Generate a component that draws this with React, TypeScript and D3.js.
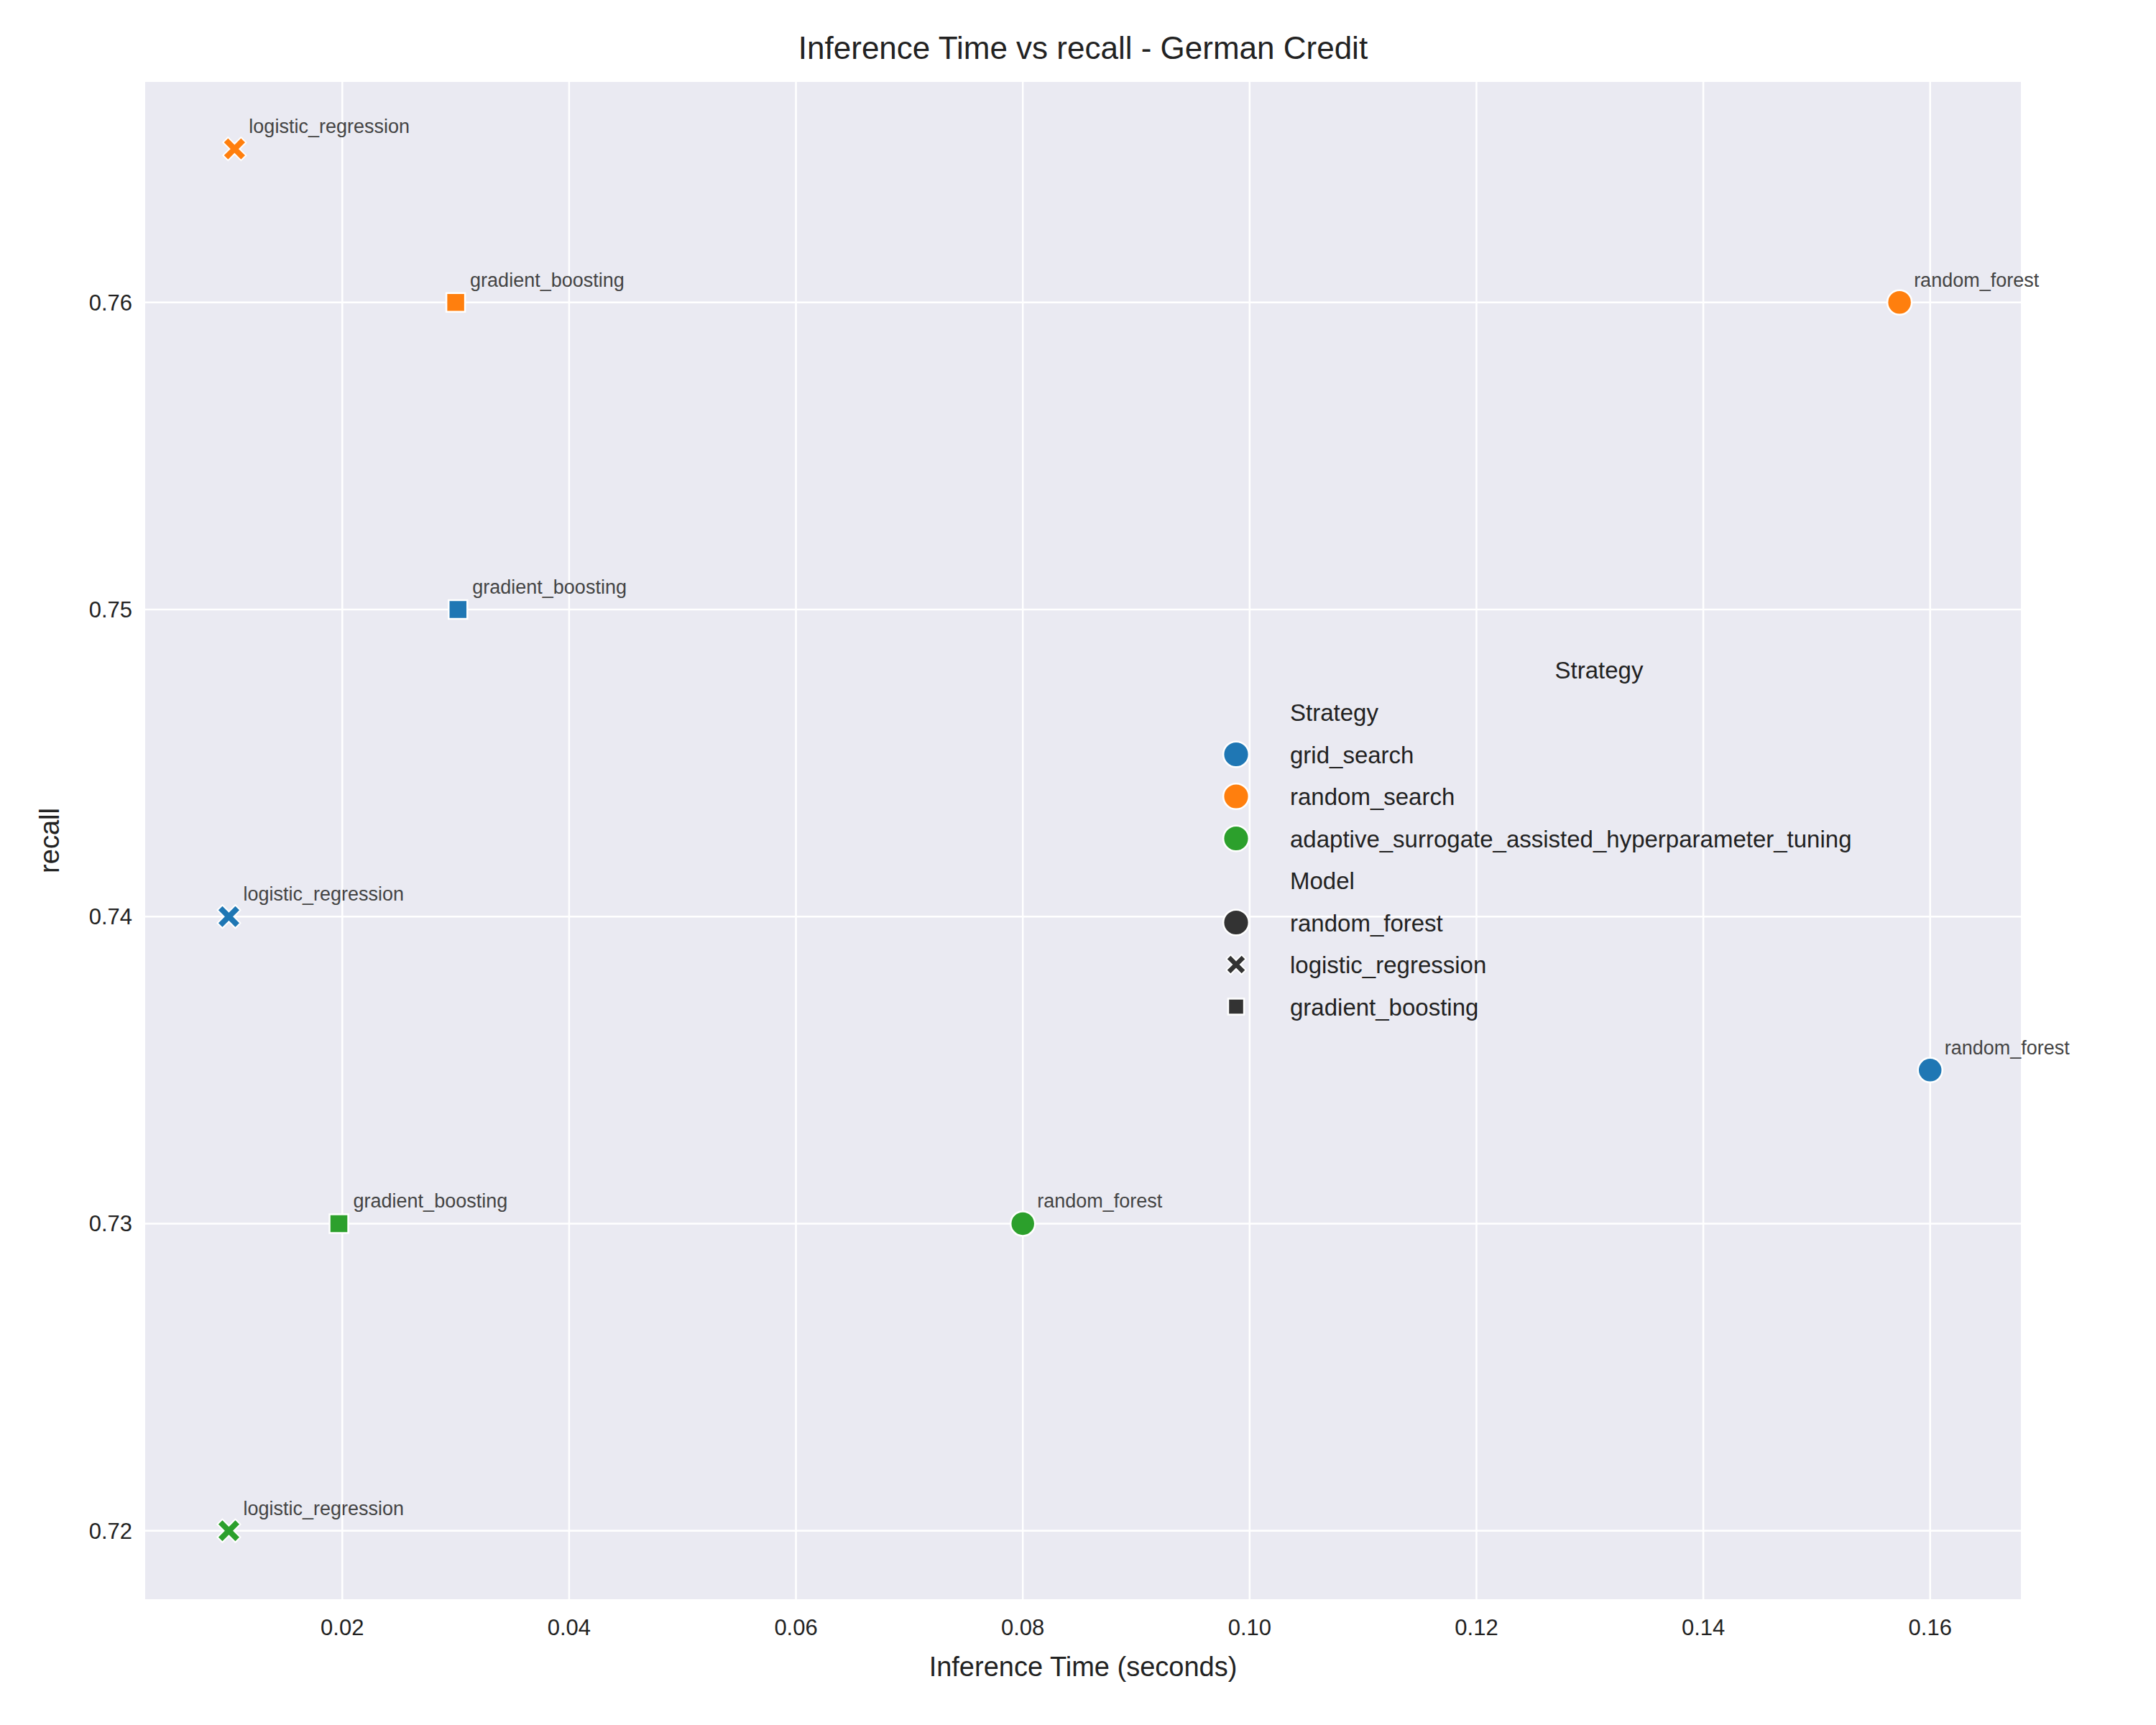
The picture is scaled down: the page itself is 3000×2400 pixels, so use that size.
import * as React from "react";
import * as d3 from "d3";

const strategies = ["grid_search", "random_search", "adaptive_surrogate_assisted_hyperparameter_tuning"];
const models = ["random_forest", "logistic_regression", "gradient_boosting"];
const colors = ["#1f77b4", "#ff7f0e", "#2ca02c"];
// [strategy, model, time, recall]
const points: [number, number, number, number][] = [
  [0, 0, 0.16, 0.735],
  [0, 1, 0.01, 0.74],
  [0, 2, 0.0302, 0.75],
  [1, 0, 0.1573, 0.76],
  [1, 1, 0.0105, 0.765],
  [1, 2, 0.03, 0.76],
  [2, 0, 0.08, 0.73],
  [2, 1, 0.01, 0.72],
  [2, 2, 0.0197, 0.73],
];
const xTicks = [0.02, 0.04, 0.06, 0.08, 0.1, 0.12, 0.14, 0.16];
const yTicks = [0.72, 0.73, 0.74, 0.75, 0.76];

const W = 3000, H = 2400;
const L = 202, R = 2812, T = 114, B = 2225;
const font = "Liberation Sans, Arial, sans-serif";

function Marker({ shape, x, y, fill, s = 1 }: { shape: number; x: number; y: number; fill: string; s?: number }) {
  if (shape === 0) return <circle cx={x} cy={y} r={17 * s} fill={fill} stroke="#fff" strokeWidth={2.5} />;
  if (shape === 2) {
    const h = 13 * s;
    return <rect x={x - h} y={y - h} width={2 * h} height={2 * h} fill={fill} stroke="#fff" strokeWidth={2.5} />;
  }
  const a = 16 * s, w = 7 * s;
  const p = `M${-a + w},${-a} L0,${-w} L${a - w},${-a} L${a},${-a + w} L${w},0 L${a},${a - w} L${a - w},${a} L0,${w} L${-a + w},${a} L${-a},${a - w} L${-w},0 L${-a},${-a + w} Z`;
  return <path d={p} transform={`translate(${x},${y})`} fill={fill} stroke="#fff" strokeWidth={2} />;
}

export default function App() {
  const x = d3.scaleLinear().domain([0.00262, 0.168]).range([L, R]);
  const y = d3.scaleLinear().domain([0.71777, 0.76718]).range([B, T]);
  const lx = 1720, ly0 = 991, dy = 58.5;
  const legend: { label: string; shape?: number; color?: string }[] = [
    { label: "Strategy" },
    ...strategies.map((s, i) => ({ label: s, shape: 0, color: colors[i] })),
    { label: "Model" },
    ...models.map((m, i) => ({ label: m, shape: i, color: "#333" })),
  ];
  return (
    <svg width={W} height={H} style={{ position: "absolute", left: 0, top: 0, fontFamily: font }}>
      <rect width={W} height={H} fill="#fff" />
      <rect x={L} y={T} width={R - L} height={B - T} fill="#eaeaf2" />
      {xTicks.map(t => <line key={t} x1={x(t)} x2={x(t)} y1={T} y2={B} stroke="#fff" strokeWidth={2.5} />)}
      {yTicks.map(t => <line key={t} x1={L} x2={R} y1={y(t)} y2={y(t)} stroke="#fff" strokeWidth={2.5} />)}
      {xTicks.map(t => (
        <text key={t} x={x(t)} y={B + 50} fontSize={31} textAnchor="middle" fill="#222">{d3.format(".2f")(t)}</text>
      ))}
      {yTicks.map(t => (
        <text key={t} x={L - 18} y={y(t) + 11} fontSize={31} textAnchor="end" fill="#222">{d3.format(".2f")(t)}</text>
      ))}
      <text x={(L + R) / 2} y={82} fontSize={44} textAnchor="middle" fill="#222">Inference Time vs recall - German Credit</text>
      <text x={(L + R) / 2} y={2332} fontSize={38} textAnchor="middle" fill="#222">Inference Time (seconds)</text>
      <text transform={`translate(82,${(T + B) / 2}) rotate(-90)`} fontSize={38} textAnchor="middle" fill="#222">recall</text>
      {points.map(([s, m, t, r], i) => (
        <g key={i}>
          <Marker shape={m} x={x(t)} y={y(r)} fill={colors[s]} />
          <text x={x(t) + 20} y={y(r) - 22} fontSize={27} fill="#444">{models[m]}</text>
        </g>
      ))}
      <text x={2225} y={944} fontSize={33} textAnchor="middle" fill="#222">Strategy</text>
      {legend.map((e, i) => (
        <g key={i}>
          {e.shape !== undefined && <Marker shape={e.shape} x={lx} y={ly0 + i * dy} fill={e.color!} s={e.shape === 0 ? 1.05 : 0.85} />}
          <text x={1795} y={ly0 + i * dy + 12} fontSize={33} fill="#222">{e.label}</text>
        </g>
      ))}
    </svg>
  );
}
